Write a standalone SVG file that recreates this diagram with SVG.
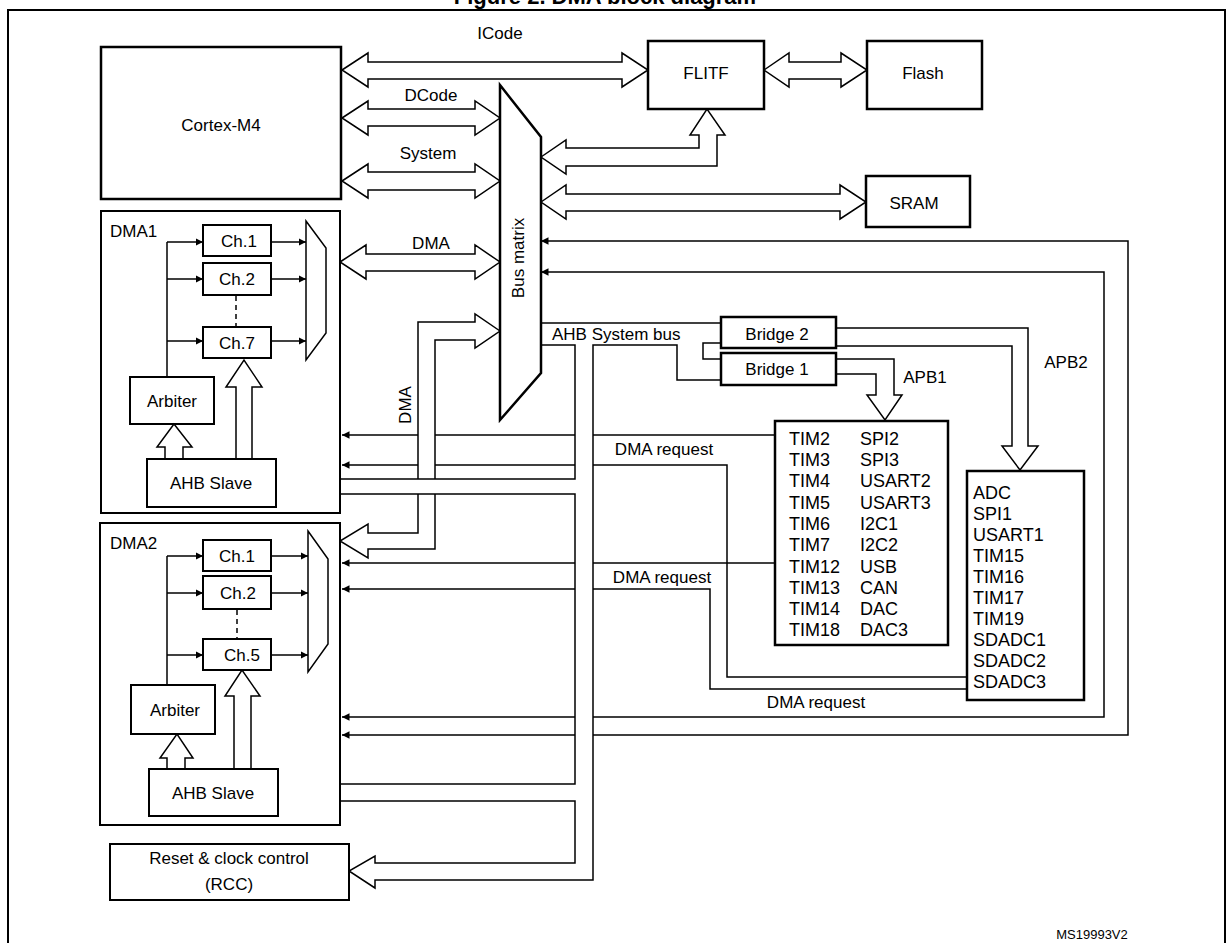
<svg xmlns="http://www.w3.org/2000/svg" width="1232" height="943" viewBox="0 0 1232 943">
<style>
text{font-family:"Liberation Sans",Arial,sans-serif;fill:#000}
.t{font-size:17px;text-anchor:middle}
.l{font-size:18px}
.box{fill:#fff;stroke:#000;stroke-width:2.5}
.tb{fill:#fff;stroke:#000;stroke-width:2}
.bus{fill:#fff;stroke:#000;stroke-width:1.5;stroke-linejoin:miter}
.ln{fill:none;stroke:#000;stroke-width:1.5}
.sig{fill:none;stroke:#000;stroke-width:1.5;marker-end:url(#a)}
.req{fill:none;stroke:#000;stroke-width:1.5;marker-start:url(#a)}
</style>
<defs>
<marker id="a" viewBox="0 0 10 10" refX="10" refY="5" markerWidth="5" markerHeight="5" orient="auto-start-reverse"><path d="M0,0 L10,5 L0,10 Z" fill="#000"/></marker>
</defs>
<rect width="1232" height="943" fill="#fff"/>
<text x="605" y="4" style="font-size:22px;font-weight:bold;text-anchor:middle">Figure 2. DMA block diagram</text>
<rect x="8" y="10" width="1217" height="945" fill="none" stroke="#000" stroke-width="2"/>

<g id="connectors">
<path class="req" d="M342,735 H1128 V241 H541" marker-end="url(#a)"/>
<path class="req" d="M342,717 H1104 V272 H541" marker-end="url(#a)"/>
<path class="req" d="M342,435 H775"/>
<path class="req" d="M342,465 H727 V677 H967"/>
<path class="req" d="M342,563 H775"/>
<path class="req" d="M342,589 H710 V689 H967"/>
<path class="ln" d="M541,323 H721"/>
<polygon class="bus" points="342,70 368,53 368,62 622,62 622,53 648,70 622,87 622,79 368,79 368,87"/>
<polygon class="bus" points="342,118 368,101 368,109 475,109 475,101 500,118 475,135 475,126 368,126 368,135"/>
<polygon class="bus" points="342,181 368,164 368,172 475,172 475,164 500,181 475,198 475,190 368,190 368,198"/>
<polygon class="bus" points="340,262 366,245 366,254 475,254 475,245 500,262 475,279 475,271 366,271 366,279"/>
<polygon class="bus" points="764,70 789,53 789,62 841,62 841,53 867,70 841,87 841,79 789,79 789,87"/>
<polygon class="bus" points="541,202 566,185 566,194 840,194 840,185 866,202 840,219 840,211 566,211 566,219"/>
<polygon class="bus" points="541,157 566,140 566,148 699,148 699,135 690,135 707,109 725,135 717,135 717,166 566,166 566,174"/>
<polygon class="bus" points="500,331 475,314 475,322 418,322 418,533 368,533 368,524 340,541 368,558 368,549 435,549 435,340 475,340 475,348"/>
<path fill="#fff" stroke="none" d="M575,344 V479 H303 V469 L277,486 L303,504 V494 H575 V784 H305 V776 L278,793 L305,810 V801 H575 V863 H375 V856 L349,871 L375,888 V880 H593 V344 Z"/>
<path class="ln" d="M541,345 H575 V479 H303 V469 L277,486 L303,504 V494 H575 V784 H305 V776 L278,793 L305,810 V801 H575 V863 H375 V856 L349,871 L375,888 V880 H593 V345 H677 V380 H721"/>
<path class="ln" d="M721,343 H703 V359 H721"/>
<polygon class="bus" points="836,359 894,359 894,395 902,395 885,420 867,395 876,395 876,374 836,374"/>
<polygon class="bus" points="836,328 1028,328 1028,446 1038,446 1020,470 1002,446 1012,446 1012,346 836,346"/>
</g>
<text class="t" x="500" y="39">ICode</text>
<text class="t" x="431" y="101">DCode</text>
<text class="t" x="428" y="159">System</text>
<text class="t" x="431" y="249">DMA</text>
<text class="t" transform="translate(411,405) rotate(-90)">DMA</text>
<text x="552" y="340" style="font-size:17px">AHB System bus</text>
<text class="t" x="664" y="455">DMA request</text>
<text class="t" x="662" y="583">DMA request</text>
<text class="t" x="816" y="708">DMA request</text>
<text class="t" x="925" y="383">APB1</text>
<text class="t" x="1066" y="368">APB2</text>
<text class="t" x="1092" y="939" style="font-size:13px">MS19993V2</text>

<g id="cortex"><rect class="box" x="101" y="47" width="240" height="152"/><text class="t" x="221" y="131">Cortex-M4</text></g>
<g id="flitf"><rect class="box" x="648" y="41" width="116" height="68"/><text class="t" x="706" y="79">FLITF</text></g>
<g id="flash"><rect class="box" x="867" y="41" width="115" height="68"/><text class="t" x="923" y="79">Flash</text></g>
<g id="sram"><rect class="box" x="866" y="176" width="104" height="51"/><text class="t" x="914" y="209">SRAM</text></g>
<g id="busmatrix"><polygon class="box" points="500,85 541,137 541,373 500,420"/><text class="t" transform="translate(524,258) rotate(-90)">Bus matrix</text></g>
<g id="bridge2"><rect class="box" x="721" y="317" width="115" height="31"/><text class="t" x="777" y="340">Bridge 2</text></g>
<g id="bridge1"><rect class="box" x="721" y="353" width="115" height="32"/><text class="t" x="777" y="375">Bridge 1</text></g>

<g id="apb1">
<rect class="box" x="775" y="421" width="173" height="224"/>
<text class="l" x="789" y="445">TIM2</text><text class="l" x="860" y="445">SPI2</text>
<text class="l" x="789" y="466">TIM3</text><text class="l" x="860" y="466">SPI3</text>
<text class="l" x="789" y="487">TIM4</text><text class="l" x="860" y="487">USART2</text>
<text class="l" x="789" y="509">TIM5</text><text class="l" x="860" y="509">USART3</text>
<text class="l" x="789" y="530">TIM6</text><text class="l" x="860" y="530">I2C1</text>
<text class="l" x="789" y="551">TIM7</text><text class="l" x="860" y="551">I2C2</text>
<text class="l" x="789" y="573">TIM12</text><text class="l" x="860" y="573">USB</text>
<text class="l" x="789" y="594">TIM13</text><text class="l" x="860" y="594">CAN</text>
<text class="l" x="789" y="615">TIM14</text><text class="l" x="860" y="615">DAC</text>
<text class="l" x="789" y="636">TIM18</text><text class="l" x="860" y="636">DAC3</text>
</g>
<g id="apb2">
<rect class="box" x="967" y="471" width="117" height="229"/>
<text class="l" x="973" y="499">ADC</text>
<text class="l" x="973" y="520">SPI1</text>
<text class="l" x="973" y="541">USART1</text>
<text class="l" x="973" y="562">TIM15</text>
<text class="l" x="973" y="583">TIM16</text>
<text class="l" x="973" y="604">TIM17</text>
<text class="l" x="973" y="625">TIM19</text>
<text class="l" x="973" y="646">SDADC1</text>
<text class="l" x="973" y="667">SDADC2</text>
<text class="l" x="973" y="688">SDADC3</text>
</g>

<g id="dma1">
<rect class="tb" x="101" y="211" width="239" height="302"/>
<text x="110" y="237" style="font-size:17px">DMA1</text>
<path class="ln" d="M167,377 V242"/>
<path class="sig" d="M167,242 H203"/><path class="sig" d="M167,279 H203"/><path class="sig" d="M167,341 H203"/>
<rect class="tb" x="203" y="225" width="68" height="31"/><text class="t" x="239" y="247">Ch.1</text>
<rect class="tb" x="203" y="263" width="68" height="32"/><text class="t" x="237" y="285">Ch.2</text>
<path d="M236,296 V327" stroke="#000" stroke-width="1.5" stroke-dasharray="5,4"/>
<rect class="tb" x="203" y="327" width="68" height="31"/><text class="t" x="237" y="349">Ch.7</text>
<path class="sig" d="M271,242 H306"/><path class="sig" d="M271,279 H306"/><path class="sig" d="M271,341 H306"/>
<polygon class="bus" points="306,221 326,248 326,333 306,360"/>
<rect class="tb" x="130" y="377" width="84" height="47"/><text class="t" x="172" y="407">Arbiter</text>
<polygon class="bus" points="165,459 165,447 157,447 174,424 192,447 183,447 183,459"/>
<polygon class="bus" points="236,459 236,387 226,387 244,360 262,387 252,387 252,459"/>
<rect class="tb" x="147" y="459" width="129" height="48"/><text class="t" x="211" y="489">AHB Slave</text>
</g>

<g id="dma2">
<rect class="tb" x="100" y="523" width="240" height="302"/>
<text x="110" y="549" style="font-size:17px">DMA2</text>
<path class="ln" d="M167,685 V556"/>
<path class="sig" d="M167,556 H203"/><path class="sig" d="M167,593 H203"/><path class="sig" d="M167,655 H203"/>
<rect class="tb" x="203" y="540" width="68" height="31"/><text class="t" x="237" y="562">Ch.1</text>
<rect class="tb" x="203" y="576" width="68" height="33"/><text class="t" x="238" y="599">Ch.2</text>
<path d="M237,610 V639" stroke="#000" stroke-width="1.5" stroke-dasharray="5,4"/>
<rect class="tb" x="203" y="639" width="68" height="31"/><text class="t" x="242" y="661">Ch.5</text>
<path class="sig" d="M271,556 H308"/><path class="sig" d="M271,593 H308"/><path class="sig" d="M271,655 H308"/>
<polygon class="bus" points="308,531 328,559 328,644 308,672"/>
<rect class="tb" x="131" y="685" width="84" height="49"/><text class="t" x="175" y="716">Arbiter</text>
<polygon class="bus" points="167,769 167,758 160,758 177,734 193,758 185,758 185,769"/>
<polygon class="bus" points="234,769 234,696 225,696 242,670 260,696 251,696 251,769"/>
<rect class="tb" x="149" y="769" width="129" height="47"/><text class="t" x="213" y="799">AHB Slave</text>
</g>

<g id="rcc">
<rect class="tb" x="110" y="844" width="239" height="56"/>
<text class="t" x="229" y="864">Reset &amp; clock control</text>
<text class="t" x="229" y="890">(RCC)</text>
</g>
</svg>
